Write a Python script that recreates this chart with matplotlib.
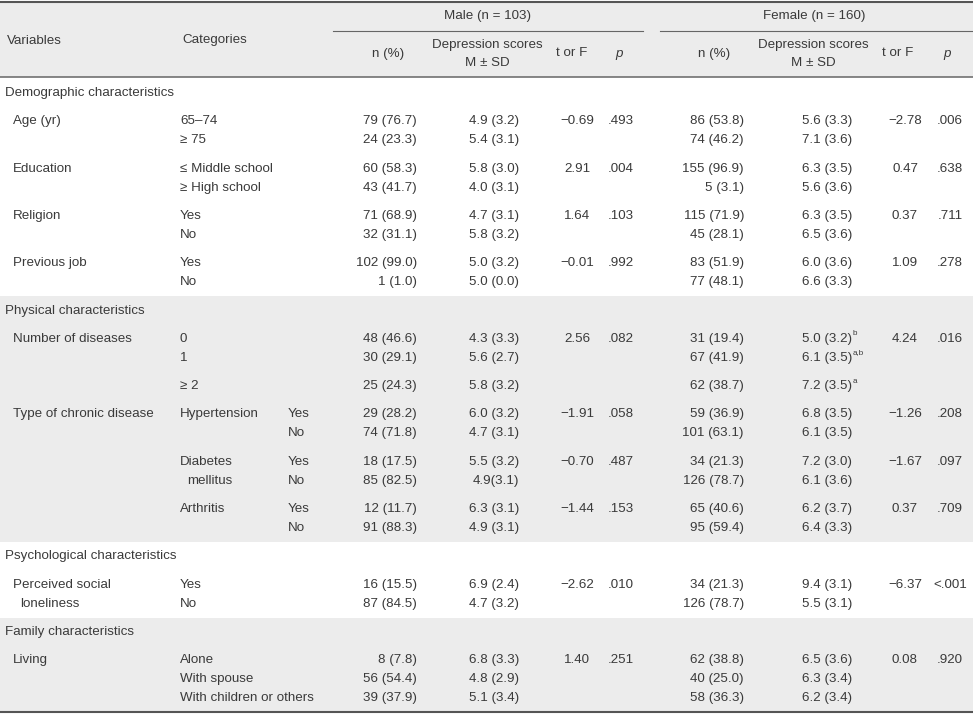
import matplotlib.pyplot as plt
from matplotlib.patches import Rectangle

plt.rcParams['font.family'] = ['Liberation Sans', 'DejaVu Sans']

# --- table content ---
sections = ['Demographic characteristics', 'Physical characteristics',
            'Psychological characteristics', 'Family characteristics']

# one entry per group
group_section = [0, 0, 0, 0, 1, 1, 1, 1, 2, 3]
group_var = [['Age (yr)'], ['Education'], ['Religion'], ['Previous job'],
             ['Number of diseases'], ['Type of chronic disease'], [], [],
             ['Perceived social', ' loneliness'], ['Living']]
group_sub = [[], [], [], [], [], ['Hypertension'], ['Diabetes', ' mellitus'],
             ['Arthritis'], [], []]
group_cats = [['65–74', '≥ 75'], ['≤ Middle school', '≥ High school'],
              ['Yes', 'No'], ['Yes', 'No'], ['0', '1', '≥ 2'],
              ['Yes', 'No'], ['Yes', 'No'], ['Yes', 'No'], ['Yes', 'No'],
              ['Alone', 'With spouse', 'With children or others']]

male_n = ['79 (76.7)', '24 (23.3)', '60 (58.3)', '43 (41.7)', '71 (68.9)', '32 (31.1)',
          '102 (99.0)', '1 (1.0)', '48 (46.6)', '30 (29.1)', '25 (24.3)', '29 (28.2)',
          '74 (71.8)', '18 (17.5)', '85 (82.5)', '12 (11.7)', '91 (88.3)', '16 (15.5)',
          '87 (84.5)', '8 (7.8)', '56 (54.4)', '39 (37.9)']
male_dep = ['4.9 (3.2)', '5.4 (3.1)', '5.8 (3.0)', '4.0 (3.1)', '4.7 (3.1)', '5.8 (3.2)',
            '5.0 (3.2)', '5.0 (0.0)', '4.3 (3.3)', '5.6 (2.7)', '5.8 (3.2)', '6.0 (3.2)',
            '4.7 (3.1)', '5.5 (3.2)', '4.9(3.1)', '6.3 (3.1)', '4.9 (3.1)', '6.9 (2.4)',
            '4.7 (3.2)', '6.8 (3.3)', '4.8 (2.9)', '5.1 (3.4)']
female_n = ['86 (53.8)', '74 (46.2)', '155 (96.9)', '5 (3.1)', '115 (71.9)', '45 (28.1)',
            '83 (51.9)', '77 (48.1)', '31 (19.4)', '67 (41.9)', '62 (38.7)', '59 (36.9)',
            '101 (63.1)', '34 (21.3)', '126 (78.7)', '65 (40.6)', '95 (59.4)', '34 (21.3)',
            '126 (78.7)', '62 (38.8)', '40 (25.0)', '58 (36.3)']
female_dep = ['5.6 (3.3)', '7.1 (3.6)', '6.3 (3.5)', '5.6 (3.6)', '6.3 (3.5)', '6.5 (3.6)',
              '6.0 (3.6)', '6.6 (3.3)', '5.0 (3.2)', '6.1 (3.5)', '7.2 (3.5)', '6.8 (3.5)',
              '6.1 (3.5)', '7.2 (3.0)', '6.1 (3.6)', '6.2 (3.7)', '6.4 (3.3)', '9.4 (3.1)',
              '5.5 (3.1)', '6.5 (3.6)', '6.3 (3.4)', '6.2 (3.4)']
female_sup = ['', '', '', '', '', '', '', '', 'b', 'a,b', 'a', '', '', '', '', '', '', '',
              '', '', '', '']

male_t = ['−0.69', '2.91', '1.64', '−0.01', '2.56', '−1.91', '−0.70', '−1.44', '−2.62', '1.40']
male_p = ['.493', '.004', '.103', '.992', '.082', '.058', '.487', '.153', '.010', '.251']
female_t = ['−2.78', '0.47', '0.37', '1.09', '4.24', '−1.26', '−1.67', '0.37', '−6.37', '0.08']
female_p = ['.006', '.638', '.711', '.278', '.016', '.208', '.097', '.709', '<.001', '.920']

# --- layout ---
W, H = 973, 714
fs = 9.6
col = '#3a3a3a'
grey = '#ececec'
step_in, step_gap = 19, 28.3

fig = plt.figure(figsize=(W / 100, H / 100), dpi=100)
ax = fig.add_axes([0, 0, 1, 1])
ax.set_xlim(0, W)
ax.set_ylim(H, 0)
ax.axis('off')

def txt(x, y, s, ha='left', **kw):
    ax.text(x, y, s, ha=ha, va='center', fontsize=kw.pop('size', fs), color=col, **kw)

# row positions
y = 93
sec_y = {}
line_y = []
group_y = []
prev_sec = None
for g, sec in enumerate(group_section):
    if sec != prev_sec:
        if prev_sec is not None:
            y += step_gap
        sec_y[sec] = y
        prev_sec = sec
    y += step_gap
    group_y.append(y)
    for i in range(len(group_cats[g])):
        if i > 0:
            # the "≥ 2" line sits a full gap below
            y += step_gap if group_cats[g][i] == '≥ 2' else step_in
        line_y.append(y)

# section edges
last_line_of_sec = {}
k = 0
for g, sec in enumerate(group_section):
    k += len(group_cats[g])
    last_line_of_sec[sec] = line_y[k - 1]
edges = [77]
for s in range(1, len(sections)):
    edges.append((last_line_of_sec[s - 1] + sec_y[s]) / 2)
edges.append(712)

# backgrounds
ax.add_patch(Rectangle((0, 2), W, 75, color=grey, lw=0, zorder=0))
for s in (1, 3):
    ax.add_patch(Rectangle((0, edges[s]), W, edges[s + 1] - edges[s], color=grey, lw=0, zorder=0))

# rules
ax.plot([0, W], [2, 2], color='#555555', lw=1.5)
ax.plot([0, W], [77, 77], color='#666666', lw=1.1)
ax.plot([0, W], [712, 712], color='#555555', lw=1.5)
ax.plot([333, 643], [30.5, 30.5], color='#666666', lw=0.8)
ax.plot([660, W], [30.5, 30.5], color='#666666', lw=0.8)

# header
txt(488, 16, 'Male (n = 103)', ha='center')
txt(814, 16, 'Female (n = 160)', ha='center')
txt(7, 41, 'Variables')
txt(182, 40, 'Categories')
for dx in (0, 326):
    txt(388 + dx, 54, 'n (%)', ha='center')
    txt(487 + dx, 45, 'Depression scores', ha='center')
    txt(487 + dx, 63, 'M ± SD', ha='center')
    txt(572 + dx, 53, 't or F', ha='center')
for px in (619, 947):
    txt(px, 54, 'p', ha='center', style='italic')

# sections
for s, name in enumerate(sections):
    txt(5, sec_y[s], name)

# body
k = 0
for g in range(len(group_section)):
    gy = group_y[g]
    for i, s in enumerate(group_var[g]):
        txt(13 + (7 if s.startswith(' ') else 0), gy + i * step_in, s.strip())
    for i, s in enumerate(group_sub[g]):
        txt(180 + (7 if s.startswith(' ') else 0), gy + i * step_in, s.strip())
    cx = 288 if group_sub[g] else 180
    for i, cat in enumerate(group_cats[g]):
        ly = line_y[k]
        txt(cx, ly, cat)
        txt(417, ly, male_n[k], ha='right')
        txt(519, ly, male_dep[k], ha='right')
        txt(744, ly, female_n[k], ha='right')
        txt(852, ly, female_dep[k], ha='right')
        if female_sup[k]:
            txt(853, ly - 5, female_sup[k], size=5.8)
        k += 1
    txt(577, gy, male_t[g], ha='center')
    txt(621, gy, male_p[g], ha='center')
    txt(905, gy, female_t[g], ha='center')
    txt(950, gy, female_p[g], ha='center')

fig.savefig('out.png', dpi=100)
